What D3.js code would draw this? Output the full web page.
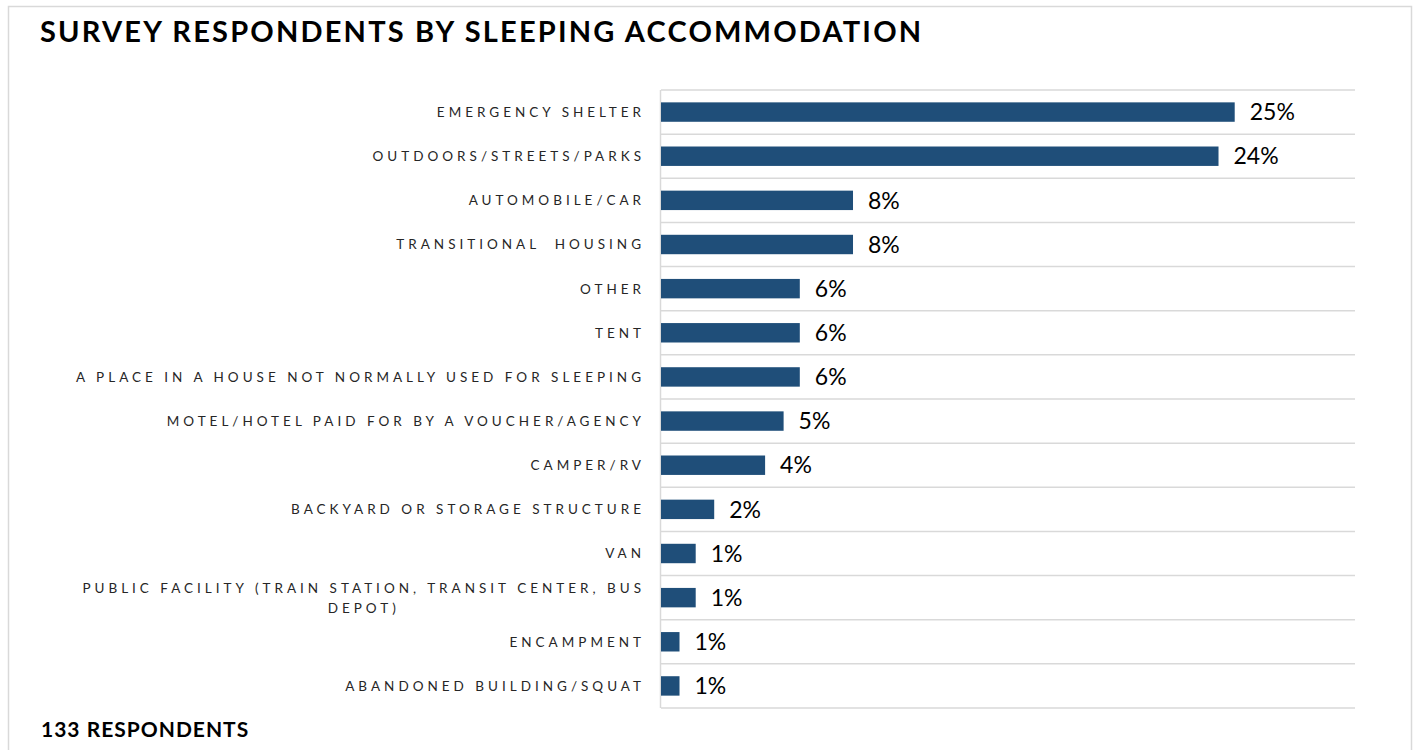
<!DOCTYPE html>
<html>
<head>
<meta charset="utf-8">
<script src="https://cdn.jsdelivr.net/npm/d3@7"></script>
<style>
  body { margin: 0; background: #fff; }
  svg text { font-family: Lato, "Open Sans", sans-serif; white-space: pre; }
</style>
</head>
<body>
<div id="chart"></div>
<script>
const categories = [
    "EMERGENCY SHELTER",
    "OUTDOORS/STREETS/PARKS",
    "AUTOMOBILE/CAR",
    "TRANSITIONAL  HOUSING",
    "OTHER",
    "TENT",
    "A PLACE IN A HOUSE NOT NORMALLY USED FOR SLEEPING",
    "MOTEL/HOTEL PAID FOR BY A VOUCHER/AGENCY",
    "CAMPER/RV",
    "BACKYARD OR STORAGE STRUCTURE",
    "VAN",
    "PUBLIC FACILITY (TRAIN STATION, TRANSIT CENTER, BUS DEPOT)",
    "ENCAMPMENT",
    "ABANDONED BUILDING/SQUAT"
];
const values = [24.8, 24.1, 8.3, 8.3, 6.0, 6.0, 6.0, 5.3, 4.5, 2.3, 1.5, 1.5, 0.8, 0.8];
const valueLabels = ["25%", "24%", "8%", "8%", "6%", "6%", "6%", "5%", "4%", "2%", "1%", "1%", "1%", "1%"];

const width = 1416, height = 750;
const margin = { left: 661, right: 61, top: 90, bottom: 42 };

const svg = d3.select("#chart").append("svg")
    .attr("width", width)
    .attr("height", height);

// outer frame
svg.append("rect")
    .attr("x", 8.5).attr("y", 6.5)
    .attr("width", 1403).attr("height", 760)
    .attr("fill", "none")
    .attr("stroke", "#d9d9d9")
    .attr("stroke-width", 1.5);

svg.append("text")
    .attr("x", 40)
    .attr("y", 42)
    .attr("font-size", 29)
    .attr("font-weight", 700)
    .attr("letter-spacing", 2.2)
    .attr("fill", "#000")
    .text("SURVEY RESPONDENTS BY SLEEPING ACCOMMODATION");

const x = d3.scaleLinear()
    .domain([0, 30])
    .range([margin.left, width - margin.right]);

const y = d3.scaleBand()
    .domain(categories)
    .range([margin.top, height - margin.bottom])
    .paddingInner(0.56)
    .paddingOuter(0.28);

const step = y.step();

// horizontal gridlines between rows
svg.append("g")
    .selectAll("line")
    .data(d3.range(categories.length + 1))
    .enter().append("line")
    .attr("x1", x(0))
    .attr("x2", x(30))
    .attr("y1", i => margin.top + i * step)
    .attr("y2", i => margin.top + i * step)
    .attr("stroke", "#d9d9d9")
    .attr("stroke-width", 1.5);

// category axis line
svg.append("line")
    .attr("x1", x(0) - 0.5).attr("x2", x(0) - 0.5)
    .attr("y1", margin.top).attr("y2", height - margin.bottom)
    .attr("stroke", "#d9d9d9")
    .attr("stroke-width", 1.5);

svg.append("g")
    .selectAll("rect")
    .data(values)
    .enter().append("rect")
    .attr("x", x(0))
    .attr("y", (d, i) => y(categories[i]))
    .attr("width", d => x(d) - x(0))
    .attr("height", y.bandwidth())
    .attr("fill", "#1f4e79");

svg.append("g")
    .selectAll("text")
    .data(values)
    .enter().append("text")
    .attr("x", d => x(d) + 15)
    .attr("y", (d, i) => y(categories[i]) + y.bandwidth() / 2)
    .attr("dy", "0.36em")
    .attr("font-size", 23)
    .attr("fill", "#000")
    .text((d, i) => valueLabels[i]);

// category labels, wrapped when too long
const labelRight = 641;
const maxLabelWidth = 575;
const labelSize = 13.5, labelSpacing = 4;
const labelG = svg.append("g");

categories.forEach(cat => {
    const cy = y(cat) + y.bandwidth() / 2;
    const t = labelG.append("text")
        .attr("font-size", labelSize)
        .attr("letter-spacing", labelSpacing)
        .attr("fill", "#262626")
        .attr("text-anchor", "end")
        .attr("x", labelRight + labelSpacing)
        .attr("y", cy)
        .attr("dy", "0.36em")
        .text(cat);
    if (t.node().getComputedTextLength() <= maxLabelWidth) return;

    // split words over lines
    const words = cat.split(" ");
    const lines = [];
    let line = [];
    t.text("");
    words.forEach(w => {
        line.push(w);
        t.text(line.join(" "));
        if (t.node().getComputedTextLength() > maxLabelWidth && line.length > 1) {
            line.pop();
            lines.push(line.join(" "));
            line = [w];
        }
    });
    lines.push(line.join(" "));
    t.remove();

    const widths = lines.map(l => {
        const tmp = labelG.append("text").attr("font-size", labelSize).attr("letter-spacing", labelSpacing).text(l);
        const w = tmp.node().getComputedTextLength();
        tmp.remove();
        return w;
    });
    const blockW = d3.max(widths);
    const lh = 20;
    lines.forEach((l, k) => {
        labelG.append("text")
            .attr("font-size", labelSize)
            .attr("letter-spacing", labelSpacing)
            .attr("fill", "#262626")
            .attr("text-anchor", "middle")
            .attr("x", labelRight + labelSpacing - blockW / 2)
            .attr("y", cy + (k - (lines.length - 1) / 2) * lh)
            .attr("dy", "0.36em")
            .text(l);
    });
});

svg.append("text")
    .attr("x", 41)
    .attr("y", 737)
    .attr("font-size", 21)
    .attr("font-weight", 700)
    .attr("letter-spacing", 1)
    .attr("fill", "#000")
    .text("133 RESPONDENTS");
</script>
</body>
</html>
